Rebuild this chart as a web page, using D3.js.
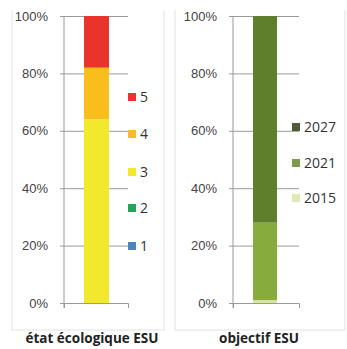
<!DOCTYPE html>
<html>
<head>
<meta charset="utf-8">
<script src="https://cdn.jsdelivr.net/npm/d3@7"></script>
<style>
  body { margin: 0; background: #fff; }
  svg { display: block; font-family: "Open Sans", "Liberation Sans", sans-serif; }
  .tick text { fill: #444; font-size: 13px; }
</style>
</head>
<body>
<div id="chart"></div>
<script>
// état écologique ESU (classes 1..5, share in %)
const etatClasses = ["1", "2", "3", "4", "5"];
const etatValues = [0, 0, 64, 18, 18];
const etatColors = ["#4f81bd", "#22a55a", "#f2e92c", "#f9be1e", "#e8342a"];

// objectif ESU (target year, share in %)
const objYears = ["2015", "2021", "2027"];
const objValues = [1, 27, 72];
const objBarColors = ["#d7e59e", "#88ab3e", "#5f7f2c"];
const objLegendColors = ["#dfe9b5", "#7d9a4f", "#4e5a37"];

const yTicks = [0, 20, 40, 60, 80, 100];

const width = 347, height = 349;
const svg = d3.select("#chart").append("svg")
  .attr("width", width)
  .attr("height", height);

const panels = [
  {x0: 12, x1: 164, axisX: 64, plotW: 64, barX0: 84, barW: 25, legX: 128,
   legY: [246, 208, 172, 134, 97], cats: etatClasses, vals: etatValues,
   barColors: etatColors, legColors: etatColors, title: "état écologique ESU", titleX: 92},
  {x0: 175, x1: 345, axisX: 233, plotW: 66, barX0: 253, barW: 24, legX: 292,
   legY: [198, 163, 127], cats: objYears, vals: objValues,
   barColors: objBarColors, legColors: objLegendColors, title: "objectif ESU", titleX: 259}
];

const y = d3.scaleLinear().domain([0, 100]).range([303, 16]);

panels.forEach(p => {
  const g = svg.append("g");

  // panel frame (no top edge)
  g.append("path")
    .attr("d", `M${p.x0},10 V330 H${p.x1} V10`)
    .attr("fill", "none")
    .attr("stroke", "#e2e2e2")
    .attr("stroke-width", 1);

  // gridlines + left labels
  const axis = d3.axisLeft(y)
    .tickValues(yTicks)
    .tickSize(-(p.plotW + 4))
    .tickPadding(14)
    .tickFormat(d => d + "%");
  const ax = g.append("g")
    .attr("transform", `translate(${p.axisX - 4},0)`)
    .call(axis);
  ax.select(".domain").remove();
  ax.selectAll(".tick line").attr("stroke", "#9a9a9a");
  ax.selectAll(".tick text").attr("x", -12);

  // vertical axis line
  g.append("line")
    .attr("x1", p.axisX).attr("x2", p.axisX)
    .attr("y1", y(100)).attr("y2", y(0) + 5)
    .attr("stroke", "#9a9a9a");

  // bottom axis with end ticks
  const x = d3.scaleBand().domain(["a"]).range([p.axisX, p.axisX + p.plotW]);
  const bx = g.append("g")
    .attr("transform", `translate(0,${y(0)})`)
    .call(d3.axisBottom(x).tickSizeInner(0).tickSizeOuter(5).tickFormat(""));
  bx.select(".domain").attr("stroke", "#9a9a9a");

  // stacked bar
  let acc = 0;
  const stack = p.vals.map((v, i) => {
    const s = {lo: acc, hi: acc + v, color: p.barColors[i]};
    acc += v;
    return s;
  });
  g.selectAll("rect.seg")
    .data(stack)
    .enter()
    .append("rect")
    .attr("class", "seg")
    .attr("x", p.barX0)
    .attr("width", p.barW)
    .attr("y", d => y(d.hi))
    .attr("height", d => y(d.lo) - y(d.hi))
    .attr("fill", d => d.color);

  // legend
  const leg = g.selectAll("g.leg")
    .data(p.cats)
    .enter()
    .append("g")
    .attr("class", "leg")
    .attr("transform", (d, i) => `translate(${p.legX},${p.legY[i]})`);
  leg.append("rect")
    .attr("x", 0).attr("y", -4)
    .attr("width", 8).attr("height", 8)
    .attr("fill", (d, i) => p.legColors[i]);
  leg.append("text")
    .attr("x", 12)
    .attr("dy", "0.36em")
    .attr("font-size", 14)
    .attr("fill", "#333")
    .text(d => d);

  // title
  g.append("text")
    .attr("x", p.titleX)
    .attr("y", 343)
    .attr("text-anchor", "middle")
    .attr("font-weight", "bold")
    .attr("font-size", 13.5)
    .attr("fill", "#222")
    .text(p.title);
});
</script>
</body>
</html>
